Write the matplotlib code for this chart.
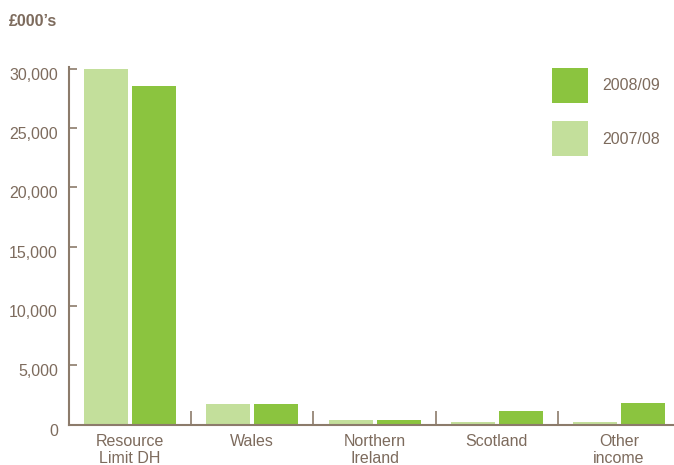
import matplotlib.pyplot as plt
import numpy as np
from matplotlib.patches import Rectangle
from matplotlib.transforms import ScaledTranslation

plt.rcParams['font.family'] = ['Liberation Sans', 'DejaVu Sans']

categories = ['Resource\nLimit DH', 'Wales', 'Northern\nIreland', 'Scotland', 'Other\nincome']
values_2007 = [30000, 1700, 400, 200, 200]
values_2008 = [28600, 1700, 400, 1100, 1800]
y_ticks = [0, 5000, 10000, 15000, 20000, 25000, 30000]
series = ['2008/09', '2007/08']

light = '#c3df9b'
dark = '#8bc43f'
brown = '#8c7b6b'
text_col = '#7d6b5d'
fs = 11.5

W, H = 674, 465
fig = plt.figure(figsize=(W / 100, H / 100), dpi=100)
# axes box in pixels: spine at x=69, baseline at y=424.5, top (30,000) at y=69
ax = fig.add_axes([69 / W, (H - 424.5) / H, (W - 69) / W, 355.5 / H])

grp = 122.2  # pixels per category
x = np.arange(len(categories))
w = 44 / grp
off = 24 / grp
ax.bar(x - off, values_2007, w, color=light)
ax.bar(x + off, values_2008, w, color=dark)

ax.set_xlim(-0.5, -0.5 + (W - 69) / grp)
ax.set_ylim(0, 30000)

for s in ['top', 'right']:
    ax.spines[s].set_visible(False)
for s in ['left', 'bottom']:
    ax.spines[s].set_color(brown)
    ax.spines[s].set_linewidth(1.5)
ax.spines['left'].set_bounds(0, 30200)

ax.set_yticks(y_ticks)
ax.set_yticklabels([f'{v:,}' for v in y_ticks])
ax.tick_params(axis='y', direction='in', length=6, width=1.2, color=brown,
               labelcolor=text_col, labelsize=fs, pad=8)
shift = ScaledTranslation(0, -5 / 100, fig.dpi_scale_trans)
for lab in ax.get_yticklabels():
    lab.set_transform(lab.get_transform() + shift)

ax.set_xticks(x)
ax.set_xticklabels(categories, linespacing=1.2)
ax.tick_params(axis='x', length=0, labelcolor=text_col, labelsize=fs, pad=6.5)
ax.set_xticks(x[:-1] + 0.5, minor=True)
ax.tick_params(axis='x', which='minor', direction='in', length=10, width=1.2, color=brown)

# legend boxes
legend_colors = [dark, light]
legend_tops = [68, 121]
for name, col, top in zip(series, legend_colors, legend_tops):
    fig.add_artist(Rectangle((552 / W, 1 - (top + 35) / H), 36 / W, 35 / H,
                             transform=fig.transFigure, color=col, lw=0))
    fig.text(602 / W, 1 - (top + 18) / H, name, fontsize=fs, color=text_col,
             va='center', ha='left')

fig.text(9 / W, 1 - 21.5 / H, '£000’s', fontsize=fs, fontweight='bold',
         color=text_col, va='center', ha='left')

fig.savefig('out.png', dpi=100)
